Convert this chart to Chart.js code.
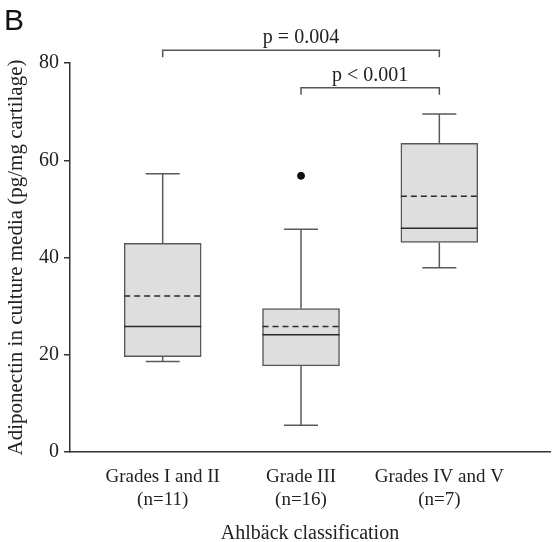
<!DOCTYPE html>
<html lang="en">
<head>
  <meta charset="UTF-8" />
  <title>Adiponectin by Ahlbäck classification</title>
  <script src="https://cdn.jsdelivr.net/npm/chart.js"></script>
  <style>
    html, body { margin: 0; padding: 0; background: #fff; }
    #wrap { width: 555px; height: 542px; }
  </style>
</head>
<body>
  <div id="wrap"><canvas id="boxChart" width="555" height="542"></canvas></div>

  <script>
    // values
    const categories = [
      ['Grades I and II', '(n=11)'],
      ['Grade III', '(n=16)'],
      ['Grades IV and V', '(n=7)']
    ];
    const whiskerLow  = [18.6, 5.5, 37.9];
    const q1          = [19.6, 17.7, 43.1];
    const median      = [25.8, 24.1, 46.0];
    const mean        = [32.1, 25.8, 52.6];
    const q3          = [42.9, 29.5, 63.5];
    const whiskerHigh = [57.2, 45.8, 69.5];
    const outlierGroup = [2];
    const outlierValue = [56.8];
    const yTicks = [0, 20, 40, 60, 80];
    const comparisons = [
      { from: 1, to: 3, text: 'p = 0.004' },
      { from: 2, to: 3, text: 'p < 0.001' }
    ];

    const serif = 'Liberation Serif';
    const ink = '#222';

    // whiskers, median, mean and significance brackets
    const boxExtras = {
      id: 'boxExtras',
      afterDatasetsDraw(chart, args, opts) {
        const { ctx } = chart;
        const xs = chart.scales.x, ys = chart.scales.y;
        ctx.save();
        categories.forEach((c, i) => {
          const cx = xs.getPixelForValue(i + 1);
          const half = opts.boxWidth / 2;
          const cap = opts.capWidth / 2;

          ctx.strokeStyle = '#5a5a5a';
          ctx.lineWidth = 1.5;
          ctx.setLineDash([]);
          ctx.beginPath();
          ctx.moveTo(cx, ys.getPixelForValue(q3[i]));
          ctx.lineTo(cx, ys.getPixelForValue(whiskerHigh[i]));
          ctx.moveTo(cx - cap, ys.getPixelForValue(whiskerHigh[i]));
          ctx.lineTo(cx + cap, ys.getPixelForValue(whiskerHigh[i]));
          ctx.moveTo(cx, ys.getPixelForValue(q1[i]));
          ctx.lineTo(cx, ys.getPixelForValue(whiskerLow[i]));
          ctx.moveTo(cx - cap, ys.getPixelForValue(whiskerLow[i]));
          ctx.lineTo(cx + cap, ys.getPixelForValue(whiskerLow[i]));
          ctx.stroke();

          ctx.strokeStyle = '#2a2a2a';
          ctx.beginPath();
          ctx.moveTo(cx - half, ys.getPixelForValue(median[i]));
          ctx.lineTo(cx + half, ys.getPixelForValue(median[i]));
          ctx.stroke();

          ctx.setLineDash([6, 4]);
          ctx.beginPath();
          ctx.moveTo(cx - half, ys.getPixelForValue(mean[i]));
          ctx.lineTo(cx + half, ys.getPixelForValue(mean[i]));
          ctx.stroke();
        });
        ctx.restore();
      },
      afterDraw(chart, args, opts) {
        const { ctx } = chart;
        const xs = chart.scales.x, ys = chart.scales.y;
        ctx.save();
        ctx.strokeStyle = '#555';
        ctx.lineWidth = 1.5;
        ctx.fillStyle = ink;
        ctx.font = '20px "' + serif + '"';
        ctx.textAlign = 'center';
        ctx.textBaseline = 'alphabetic';
        comparisons.forEach((c, k) => {
          const x1 = xs.getPixelForValue(c.from);
          const x2 = xs.getPixelForValue(c.to);
          const y = ys.getPixelForValue(opts.bracketLevels[k]);
          ctx.beginPath();
          ctx.moveTo(x1, y + opts.tick);
          ctx.lineTo(x1, y);
          ctx.lineTo(x2, y);
          ctx.lineTo(x2, y + opts.tick);
          ctx.stroke();
          ctx.fillText(c.text, (x1 + x2) / 2, y - 7);
        });
        ctx.restore();
      }
    };

    new Chart(document.getElementById('boxChart'), {
      type: 'bar',
      data: {
        datasets: [
          {
            type: 'bar',
            data: q1.map((v, i) => ({ x: i + 1, y: [v, q3[i]] })),
            backgroundColor: '#dedede',
            borderColor: '#5a5a5a',
            borderWidth: 1.5,
            borderSkipped: false,
            barThickness: 77
          },
          {
            type: 'scatter',
            data: outlierGroup.map((g, i) => ({ x: g, y: outlierValue[i] })),
            backgroundColor: '#111',
            borderColor: '#111',
            pointRadius: 3.5
          }
        ]
      },
      options: {
        responsive: false,
        animation: false,
        layout: { padding: { left: 4, right: 2, top: 0, bottom: 0 } },
        plugins: {
          legend: { display: false },
          tooltip: { enabled: false },
          title: {
            display: true,
            text: 'B',
            align: 'start',
            color: '#111',
            font: { family: 'Liberation Sans', size: 30, weight: 'normal' },
            padding: { top: 4, bottom: 23 }
          },
          boxExtras: { boxWidth: 77, capWidth: 34, tick: 7, bracketLevels: [82.6, 74.9] }
        },
        scales: {
          x: {
            type: 'linear',
            offset: false,
            min: 0.33,
            max: 3.80,
            afterBuildTicks: s => { s.ticks = categories.map((c, i) => ({ value: i + 1 })); },
            afterFit: s => { s.height = 90; },
            grid: { display: false, drawTicks: false, offset: false },
            border: { display: true, color: '#333', width: 1.5 },
            ticks: {
              autoSkip: false,
              maxRotation: 0,
              padding: 14,
              color: ink,
              font: { family: serif, size: 19 },
              callback: v => categories[v - 1]
            },
            title: {
              display: true,
              text: 'Ahlbäck classification',
              color: ink,
              font: { family: serif, size: 20 },
              padding: { top: 0, bottom: -4 }
            }
          },
          y: {
            min: 0,
            max: 80,
            afterBuildTicks: s => { s.ticks = yTicks.map(v => ({ value: v })); },
            afterFit: s => { s.width = 66; },
            grid: { drawOnChartArea: false, drawTicks: true, tickLength: 6, color: '#333', lineWidth: 1.5 },
            border: { display: true, color: '#333', width: 1.5 },
            ticks: {
              padding: 5,
              color: ink,
              font: { family: serif, size: 20 }
            },
            title: {
              display: true,
              text: 'Adiponectin in culture media (pg/mg cartilage)',
              color: ink,
              font: { family: serif, size: 21 },
              padding: { top: 0, bottom: 0 }
            }
          }
        }
      },
      plugins: [boxExtras]
    });
  </script>
</body>
</html>
